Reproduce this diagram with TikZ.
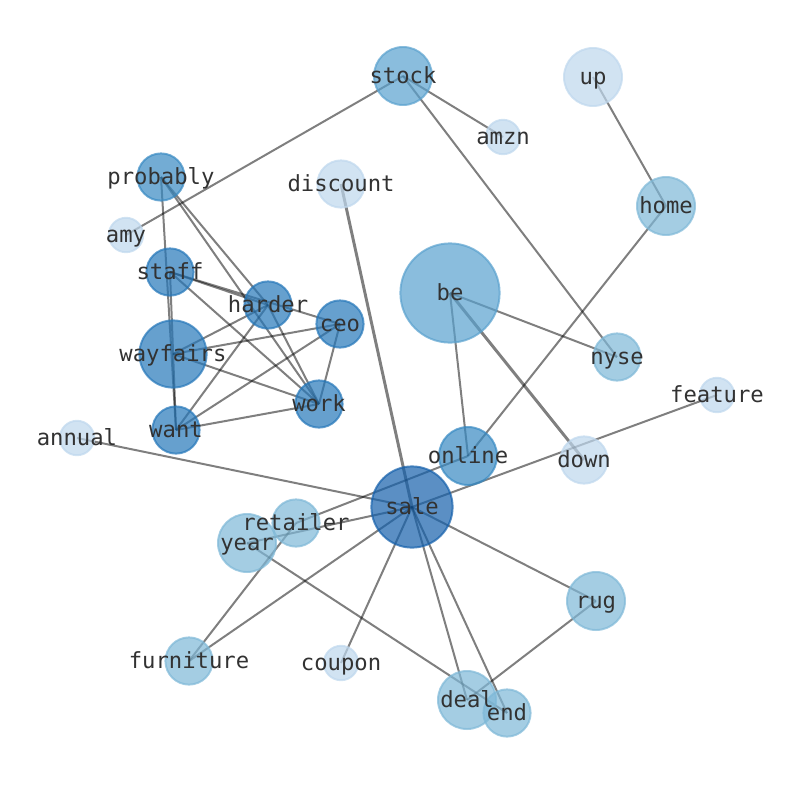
\documentclass[tikz,border=0pt]{standalone}
\usepackage{fontspec}
\newfontfamily\wordfont{DejaVu Sans Mono}
\usetikzlibrary{backgrounds}

\definecolor{toneA}{RGB}{190,215,237}
\definecolor{toneB}{RGB}{126,184,215}
\definecolor{toneC}{RGB}{89,161,206}
\definecolor{toneD}{RGB}{55,137,194}
\definecolor{toneE}{RGB}{37,119,185}
\definecolor{toneF}{RGB}{21,96,171}
\definecolor{wordgray}{RGB}{50,50,50}

\begin{document}
\begin{tikzpicture}[x=0.025cm, y=-0.025cm,
    word/.style={circle, inner sep=0pt, line width=1.4pt, fill opacity=0.7, draw opacity=0.7},
    tinyword/.style={word, minimum size=0.86cm},
    smallword/.style={word, minimum size=1.18cm},
    midword/.style={word, minimum size=1.45cm},
    largeword/.style={word, minimum size=1.68cm},
    bigword/.style={word, minimum size=2.03cm},
    hugeword/.style={word, minimum size=2.48cm},
    tone1/.style={fill=toneA, draw=toneA},
    tone2/.style={fill=toneB, draw=toneB},
    tone3/.style={fill=toneC, draw=toneC},
    tone4/.style={fill=toneD, draw=toneD},
    tone5/.style={fill=toneE, draw=toneE},
    tone6/.style={fill=toneF, draw=toneF},
    wordlabel/.style={inner sep=0pt, text=wordgray, text height=1.2em, text depth=0.2em,
        font=\wordfont\fontsize{15.8}{18}\selectfont},
    link/.style={draw=black, opacity=0.5, line width=1.42pt},
    heavylink/.style={link, line width=2.1pt},
]

\useasboundingbox (0,0) rectangle (794,790);

% Words
\node[midword, tone3] (stock) at (403,76) {};
\node[midword, tone1] (up) at (593,77) {};
\node[tinyword, tone1] (amzn) at (503,137) {};
\node[smallword, tone4] (probably) at (161,177) {};
\node[smallword, tone1] (discount) at (341,184) {};
\node[midword, tone2] (home) at (666,206) {};
\node[tinyword, tone1] (amy) at (126,235) {};
\node[smallword, tone5] (staff) at (170,272) {};
\node[hugeword, tone3] (be) at (450,293) {};
\node[smallword, tone5] (harder) at (268,305) {};
\node[smallword, tone5] (ceo) at (340,324) {};
\node[largeword, tone5] (wayfairs) at (173,354) {};
\node[smallword, tone2] (nyse) at (617,357) {};
\node[tinyword, tone1] (feature) at (717,395) {};
\node[smallword, tone5] (work) at (319,404) {};
\node[smallword, tone5] (want) at (176,430) {};
\node[tinyword, tone1] (annual) at (77,438) {};
\node[midword, tone4] (online) at (468,456) {};
\node[smallword, tone1] (down) at (584,460) {};
\node[bigword, tone6] (sale) at (412,507) {};
\node[smallword, tone2] (retailer) at (296,523) {};
\node[midword, tone2] (year) at (247,543) {};
\node[midword, tone2] (rug) at (596,601) {};
\node[smallword, tone2] (furniture) at (189,661) {};
\node[tinyword, tone1] (coupon) at (341,663) {};
\node[midword, tone2] (deal) at (467,700) {};
\node[smallword, tone2] (end) at (507,713) {};

% Labels
\foreach \w in {stock,up,amzn,probably,discount,home,amy,staff,be,harder,ceo,
    wayfairs,nyse,feature,work,want,annual,online,down,sale,retailer,year,rug,
    furniture,coupon,deal,end}
  \node[wordlabel] (\w-lbl) at (\w) {\w};

% Links
\begin{scope}[on background layer]
\draw[link] (stock.center) -- (amy.center);
\draw[link] (stock.center) -- (amzn.center);
\draw[link] (stock.center) -- (nyse.center);
\draw[link] (up.center) -- (home.center);
\draw[link] (home.center) -- (online.center);
\draw[link] (be.center) -- (nyse.center);
\draw[link] (be.center) -- (online.center);
\draw[heavylink] (be.center) -- (down.center);
\draw[link] (feature.center) -- (sale.center);
\draw[heavylink] (discount.center) -- (sale.center);
\draw[link] (annual.center) -- (sale.center);
\draw[link] (retailer.center) -- (online.center);
\draw[link] (year.center) -- (sale.center);
\draw[link] (furniture.center) -- (retailer.center);
\draw[link] (furniture.center) -- (sale.center);
\draw[link] (coupon.center) -- (sale.center);
\draw[link] (sale.center) -- (deal.center);
\draw[link] (sale.center) -- (end.center);
\draw[link] (sale.center) -- (rug.center);
\draw[link] (rug.center) -- (deal.center);
\draw[link] (year.center) -- (end.center);
\draw[link] (probably.center) -- (want.center);
\draw[link] (staff.center) -- (want.center);
\draw[link] (probably.center) -- (harder.center);
\draw[link] (probably.center) -- (work.center);
\draw[link] (staff.center) -- (harder.center);
\draw[link] (staff.center) -- (ceo.center);
\draw[link] (staff.center) -- (work.center);
\draw[link] (harder.center) -- (wayfairs.center);
\draw[link] (harder.center) -- (want.center);
\draw[link] (harder.center) -- (work.center);
\draw[link] (ceo.center) -- (wayfairs.center);
\draw[link] (ceo.center) -- (want.center);
\draw[link] (ceo.center) -- (work.center);
\draw[link] (wayfairs.center) -- (work.center);
\draw[link] (want.center) -- (work.center);
\end{scope}

\end{tikzpicture}
\end{document}
